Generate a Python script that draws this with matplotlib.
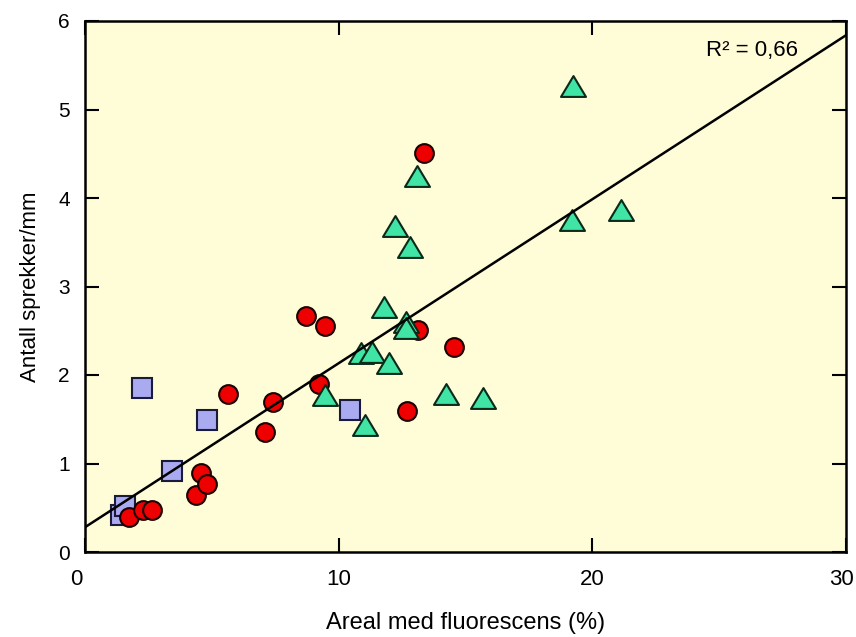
import matplotlib
matplotlib.use("Agg")
import matplotlib.pyplot as plt
from matplotlib.path import Path
import matplotlib.transforms as mtransforms

# Measurements: area with fluorescence (%) vs. number of cracks per mm
sq_x = [1.41, 1.58, 2.23, 3.43, 4.81, 10.45]
sq_y = [0.42, 0.52, 1.85, 0.915, 1.49, 1.61]

circ_x = [1.75, 2.27, 2.63, 4.38, 4.56, 4.80, 5.64, 7.08, 7.40, 8.70,
          9.46, 9.24, 12.68, 13.11, 14.56, 13.36]
circ_y = [0.39, 0.47, 0.48, 0.64, 0.89, 0.765, 1.78, 1.36, 1.69, 2.67,
          2.55, 1.90, 1.59, 2.51, 2.32, 4.51]

tri_x = [9.47, 11.04, 10.90, 11.30, 12.00, 11.79, 12.64, 12.64, 12.21,
         12.82, 13.10, 14.22, 15.68, 19.22, 19.20, 21.14]
tri_y = [1.77, 1.44, 2.25, 2.26, 2.14, 2.77, 2.60, 2.53, 3.68,
         3.45, 4.25, 1.79, 1.74, 5.26, 3.75, 3.86]

# Linear regression line
fit_intercept = 0.28
fit_slope = 0.1853
r2_label = "R² = 0,66"

x_ticks = [0, 10, 20, 30]
y_ticks = [0, 1, 2, 3, 4, 5, 6]

plt.rcParams["font.family"] = ["Liberation Sans", "DejaVu Sans"]

fig = plt.figure(figsize=(8.56, 6.37), dpi=100)
ax = fig.add_axes([85 / 856, 1 - 552 / 637, 761 / 856, 531 / 637])
ax.set_facecolor("#fffcd8")

# wide triangle marker
tri_marker = Path([(-0.6, -0.5), (0.6, -0.5), (0.0, 0.5), (-0.6, -0.5)],
                  [Path.MOVETO, Path.LINETO, Path.LINETO, Path.CLOSEPOLY])

ax.plot(sq_x, sq_y, linestyle="none", marker="s", markersize=15,
        markerfacecolor="#aaaaf0", markeredgecolor="#1a1a3a",
        markeredgewidth=1.5, zorder=3)
ax.plot(circ_x, circ_y, linestyle="none", marker="o", markersize=13.5,
        markerfacecolor="#ee0000", markeredgecolor="#1a0000",
        markeredgewidth=1.5, zorder=4)
ax.plot(tri_x, tri_y, linestyle="none", marker=tri_marker, markersize=18,
        markerfacecolor="#40e4a4", markeredgecolor="#0a2a1a",
        markeredgewidth=1.5, zorder=5)

xs = [0, 30]
ax.plot(xs, [fit_intercept + fit_slope * x for x in xs], color="black",
        linewidth=1.8, zorder=6, solid_capstyle="butt")

ax.set_xlim(0, 30)
ax.set_ylim(0, 6)
ax.set_xticks(x_ticks)
ax.set_yticks(y_ticks)
ax.set_xticklabels([str(t) for t in x_ticks], fontsize=16)
ax.set_yticklabels([str(t) for t in y_ticks], fontsize=15)
ax.tick_params(direction="in", length=10, width=1.5, top=True, right=True)
ax.tick_params(axis="y", pad=11)
ax.tick_params(axis="x", pad=12)
for sp in ax.spines.values():
    sp.set_linewidth(1.8)

# nudge the end labels inward so they clear the y "0" and the figure edge
xlabels = ax.get_xticklabels()
xlabels[0].set_transform(xlabels[0].get_transform() +
                         mtransforms.ScaledTranslation(-9 / 100, 0, fig.dpi_scale_trans))
xlabels[-1].set_transform(xlabels[-1].get_transform() +
                          mtransforms.ScaledTranslation(-5 / 100, 0, fig.dpi_scale_trans))

ax.text(0.876, 0.944, r2_label, transform=ax.transAxes, ha="center",
        va="center", fontsize=16)

ax.set_xlabel("Areal med fluorescens (%)", fontsize=17, labelpad=16)
ax.set_ylabel("Antall sprekker/mm", fontsize=16, labelpad=12)

fig.savefig("out.png", dpi=100, facecolor="white")
